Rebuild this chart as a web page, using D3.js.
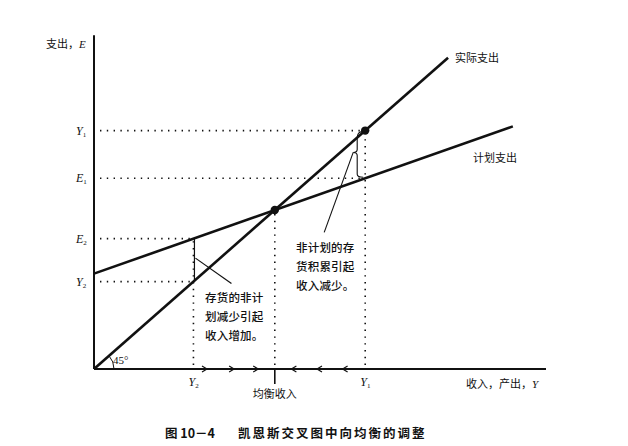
<!DOCTYPE html>
<html><head><meta charset="utf-8">
<script src="https://cdn.jsdelivr.net/npm/d3@7"></script>
<style>body{margin:0;background:#fff}svg{display:block}</style>
</head><body>
<script>
// Data (income Y on x-axis, spending E on y-axis)
const actualSpending = [[0, 0], [117.5, 117.5]];     // 45° line
const plannedSpending = [[0, 36], [139, 91.6]];      // E = C + I + G
const incomeMarks = [33, 60, 90];                    // Y2, equilibrium, Y1
const incomeLabels = ["Y2", "均衡收入", "Y1"];
const spendingMarks = [90, 72, 49.2, 33];            // Y1, E1, E2, Y2
const spendingLabels = ["Y1", "E1", "E2", "Y2"];
const rightArrows = [37.5, 46.5, 54.5];
const leftArrows = [65.5, 74, 82.5];
const noteUp = ["存货的非计", "划减少引起", "收入增加。"];
const noteDown = ["非计划的存", "货积累引起", "收入减少。"];

const W = 628, H = 446;
const svg = d3.select("body").append("svg").attr("width", W).attr("height", H);
const x = d3.scaleLinear().domain([0, 150]).range([94, 546]);
const y = d3.scaleLinear().domain([0, 124.2]).range([369, 40]);
const cjk = "'Noto Sans CJK SC', sans-serif";
const serif = "'Liberation Serif', 'DejaVu Serif', serif";
const ink = "#111";

// axes
svg.append("line").attr("x1", x(0)).attr("x2", x(0)).attr("y1", y(0)).attr("y2", y(126))
  .attr("stroke", ink).attr("stroke-width", 2);
svg.append("line").attr("x1", x(0)).attr("x2", x(150)).attr("y1", y(0)).attr("y2", y(0))
  .attr("stroke", ink).attr("stroke-width", 2);

const dotted = g => g.attr("stroke", ink).attr("stroke-width", 1.6)
  .attr("stroke-dasharray", "1.4,5.4").attr("fill", "none");

const [Y2, Ys, Y1] = incomeMarks;
const [lY1, lE1, lE2, lY2] = spendingMarks;
// horizontal dotted
[[lY1, Y1], [lE1, Y1], [lE2, Y2], [lY2, Y2]].forEach(([v, xe]) => {
  svg.append("line").attr("x1", x(0) + 6).attr("x2", x(xe)).attr("y1", y(v)).attr("y2", y(v)).call(dotted);
});
// vertical dotted
[[Y2, lE2], [Y1, lY1], [Ys, Ys]].forEach(([xv, top]) => {
  svg.append("line").attr("x1", x(xv)).attr("x2", x(xv)).attr("y1", y(0) - 4).attr("y2", y(top)).call(dotted);
});
// equilibrium solid tick below axis
svg.append("line").attr("x1", x(Ys)).attr("x2", x(Ys)).attr("y1", y(0)).attr("y2", y(0) + 15)
  .attr("stroke", ink).attr("stroke-width", 1.6);

// spending lines
const line = d3.line().x(d => x(d[0])).y(d => y(d[1]));
svg.append("path").attr("d", line(actualSpending)).attr("stroke", ink).attr("stroke-width", 2.6).attr("fill", "none");
svg.append("path").attr("d", line(plannedSpending)).attr("stroke", ink).attr("stroke-width", 2.6).attr("fill", "none");

// dots
[[Y1, lY1], [Ys, Ys]].forEach(([a, b]) => {
  svg.append("circle").attr("cx", x(a)).attr("cy", y(b)).attr("r", 4.2).attr("fill", ink);
});

// Bracket at Y2 and pointer
svg.append("line").attr("x1", x(Y2) + 1).attr("x2", x(Y2) + 1).attr("y1", y(lE2)).attr("y2", y(lY2))
  .attr("stroke", ink).attr("stroke-width", 1.2);
svg.append("line").attr("x1", x(Y2) + 2).attr("y1", (y(lE2) + y(lY2)) / 2 - 2)
  .attr("x2", x(Y2) + 38).attr("y2", y(lY2) + 2).attr("stroke", ink).attr("stroke-width", 1.2);

// Bracket at Y1 and pointer
const bx = x(Y1) - 8, bt = y(lY1) + 3, bb = y(lE1) - 1, bm = (bt + bb) / 2 - 3;
svg.append("path")
  .attr("d", `M${x(Y1) - 3},${bt - 2} Q${bx},${bt - 2} ${bx},${bt + 5} L${bx},${bm - 3} Q${bx},${bm} ${bx - 4},${bm} Q${bx},${bm} ${bx},${bm + 3} L${bx},${bb - 3} Q${bx},${bb} ${x(Y1) - 2},${bb}`)
  .attr("stroke", ink).attr("stroke-width", 1.1).attr("fill", "none");
svg.append("line").attr("x1", bx - 4).attr("y1", bm).attr("x2", bx - 33).attr("y2", bm + 80)
  .attr("stroke", ink).attr("stroke-width", 1.1);

// 45° arc
const r = 20, ang = Math.atan2(y(0) - y(10), x(10) - x(0));
svg.append("path")
  .attr("d", `M${x(0) + r},${y(0)} A${r},${r} 0 0 0 ${x(0) + r * Math.cos(ang)},${y(0) - r * Math.sin(ang)}`)
  .attr("stroke", ink).attr("stroke-width", 1).attr("fill", "none");
svg.append("text").attr("x", x(0) + 19).attr("y", y(0) - 5).attr("font-family", serif)
  .attr("font-size", 11).attr("fill", ink).text("45°");

// axis chevrons
rightArrows.forEach(v => {
  svg.append("path").attr("d", `M${x(v) - 5},${y(0) - 3} L${x(v)},${y(0)} L${x(v) - 5},${y(0) + 3}`)
    .attr("stroke", ink).attr("stroke-width", 1.2).attr("fill", "none");
});
leftArrows.forEach(v => {
  svg.append("path").attr("d", `M${x(v) + 5},${y(0) - 3} L${x(v)},${y(0)} L${x(v) + 5},${y(0) + 3}`)
    .attr("stroke", ink).attr("stroke-width", 1.2).attr("fill", "none");
});

// label helper: "Y1" -> italic Y with subscript 1
function symLabel(sel, s) {
  sel.append("tspan").attr("font-style", "italic").attr("font-family", serif).text(s[0]);
  sel.append("tspan").attr("font-size", 7).attr("dy", 2).attr("font-family", serif).text(s.slice(1));
}

// y tick labels
spendingLabels.forEach((lab, i) => {
  const t = svg.append("text").attr("x", 76).attr("y", y(spendingMarks[i]) + 4)
    .attr("font-size", 12).attr("fill", ink);
  symLabel(t, lab);
});
// x tick labels
incomeLabels.forEach((lab, i) => {
  if (lab.length === 2 && lab[0] === "Y") {
    const t = svg.append("text").attr("x", x(incomeMarks[i]) - 5).attr("y", y(0) + 17)
      .attr("font-size", 12).attr("fill", ink);
    symLabel(t, lab);
  } else {
    svg.append("text").attr("x", x(incomeMarks[i])).attr("y", y(0) + 29).attr("text-anchor", "middle")
      .attr("font-family", cjk).attr("font-size", 11).attr("fill", ink).text(lab);
  }
});

// axis titles
const yt = svg.append("text").attr("x", 46).attr("y", 48).attr("font-family", cjk).attr("font-size", 11).attr("fill", ink);
yt.append("tspan").text("支出，");
yt.append("tspan").attr("font-family", serif).attr("font-style", "italic").text("E");
const xt = svg.append("text").attr("x", 466).attr("y", 388).attr("font-family", cjk).attr("font-size", 11).attr("fill", ink);
xt.append("tspan").text("收入，产出，");
xt.append("tspan").attr("font-family", serif).attr("font-style", "italic").text("Y");

// line labels
svg.append("text").attr("x", 455).attr("y", 62).attr("font-family", cjk).attr("font-size", 11).attr("fill", ink).text("实际支出");
svg.append("text").attr("x", 473).attr("y", 162).attr("font-family", cjk).attr("font-size", 11).attr("fill", ink).text("计划支出");

// notes
noteUp.forEach((s, i) => {
  svg.append("text").attr("x", 205).attr("y", 302 + i * 19).attr("font-family", cjk).attr("font-size", 11.5)
    .attr("font-weight", 500).attr("letter-spacing", 0.2).attr("fill", ink).text(s);
});
noteDown.forEach((s, i) => {
  svg.append("text").attr("x", 296).attr("y", 252 + i * 19).attr("font-family", cjk).attr("font-size", 11.5)
    .attr("font-weight", 500).attr("letter-spacing", 0.2).attr("fill", ink).text(s);
});

// caption
svg.append("text").attr("x", 165).attr("y", 438).attr("font-family", cjk).attr("font-size", 12.5)
  .attr("font-weight", 700).attr("fill", ink).text("图 10－4");
svg.append("text").attr("x", 238).attr("y", 438).attr("font-family", cjk).attr("font-size", 12.5)
  .attr("font-weight", 700).attr("letter-spacing", 2).attr("fill", ink).text("凯恩斯交叉图中向均衡的调整");
</script>
</body></html>
